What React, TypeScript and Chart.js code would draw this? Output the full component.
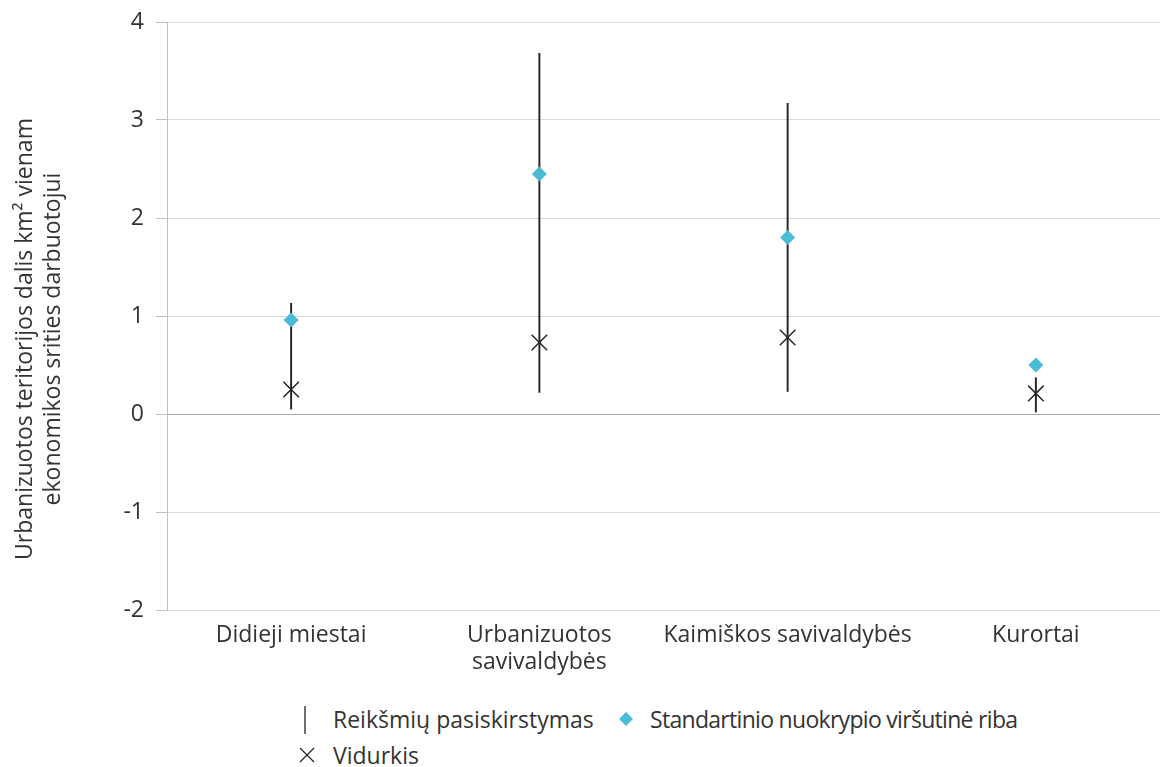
import React, { useEffect, useRef } from 'react';
import { Chart, registerables } from 'chart.js';

Chart.register(...registerables);

const categories: (string | string[])[] = [
  'Didieji miestai',
  ['Urbanizuotos', 'savivaldybės'],
  'Kaimiškos savivaldybės',
  'Kurortai',
];
const rangeLow = [0.05, 0.22, 0.23, 0.02];
const rangeHigh = [1.13, 3.68, 3.17, 0.37];
const stdUpper = [0.96, 2.45, 1.8, 0.5];
const meanValues = [0.25, 0.73, 0.78, 0.21];
const yMin = -2;
const yMax = 4;
const yTitleLines = ['Urbanizuotos teritorijos dalis km² vienam', 'ekonomikos srities darbuotojui'];
const legendLabels = ['Reikšmių pasiskirstymas', 'Standartinio nuokrypio viršutinė riba', 'Vidurkis'];

const FONT = '"Open Sans", Lato, sans-serif';
const FS = 23;
const TEXT = '#333333';
const BLUE = '#4BBCD8';

const yTitlePlugin = {
  id: 'yTitlePlugin',
  afterDraw(chart: any) {
    const ctx = chart.ctx;
    ctx.save();
    ctx.translate(0, 339);
    ctx.rotate(-Math.PI / 2);
    ctx.font = `${FS}px ${FONT}`;
    ctx.fillStyle = TEXT;
    ctx.textAlign = 'center';
    ctx.textBaseline = 'middle';
    ctx.fillText(yTitleLines[0], 0, 25);
    ctx.fillText(yTitleLines[1], 0, 53);
    ctx.restore();
  },
};

export default function App() {
  const ref = useRef<HTMLCanvasElement | null>(null);

  useEffect(() => {
    document.body.style.margin = '0';
    const canvas = ref.current;
    if (!canvas) return;
    const chart = new Chart(canvas, {
      type: 'bar',
      data: {
        labels: categories as any,
        datasets: [
          {
            type: 'line',
            label: legendLabels[2],
            data: meanValues,
            showLine: false,
            pointStyle: 'crossRot',
            pointRadius: 11,
            pointBorderColor: '#262626',
            pointBorderWidth: 1.5,
            borderColor: '#262626',
            order: 1,
          } as any,
          {
            type: 'line',
            label: legendLabels[1],
            data: stdUpper,
            showLine: false,
            pointStyle: 'rectRot',
            pointRadius: 7.5,
            pointBackgroundColor: BLUE,
            pointBorderColor: BLUE,
            pointBorderWidth: 0,
            order: 2,
          } as any,
          {
            type: 'bar',
            label: legendLabels[0],
            data: rangeLow.map((lo, i) => [lo, rangeHigh[i]]),
            backgroundColor: '#262626',
            borderWidth: 0,
            barThickness: 1.3,
            order: 3,
          } as any,
        ],
      },
      options: {
        animation: false,
        responsive: false,
        maintainAspectRatio: false,
        layout: { autoPadding: false, padding: { top: 22, right: 0, left: 0, bottom: 0 } },
        plugins: {
          legend: { display: false },
          tooltip: { enabled: false },
        },
        scales: {
          x: {
            type: 'category',
            offset: true,
            grid: { display: false },
            border: { display: false },
            ticks: {
              color: TEXT,
              font: { family: FONT, size: FS, lineHeight: 1.17 },
              padding: 4,
              maxRotation: 0,
              autoSkip: false,
            },
            afterFit(scale: any) {
              scale.height = 70;
              scale.paddingLeft = 0;
              scale.paddingRight = 0;
            },
          },
          y: {
            min: yMin,
            max: yMax,
            ticks: {
              stepSize: 1,
              color: TEXT,
              font: { family: FONT, size: FS },
              padding: 12,
            },
            grid: {
              color: (c: any) => (c.tick && c.tick.value === 0 ? '#a6a6a6' : '#d9d9d9'),
              tickColor: '#bfbfbf',
              tickLength: 11,
              lineWidth: 1,
            },
            border: { display: true, color: '#bfbfbf' },
            afterFit(scale: any) {
              scale.width = 167;
              scale.paddingTop = 0;
              scale.paddingBottom = 0;
            },
          },
        },
      },
      plugins: [yTitlePlugin],
    });
    return () => chart.destroy();
  }, []);

  const textStyle: React.CSSProperties = {
    position: 'absolute',
    fontFamily: FONT,
    fontSize: FS,
    color: TEXT,
    lineHeight: '30px',
    whiteSpace: 'nowrap',
  };

  return (
    <div style={{ position: 'absolute', left: 0, top: 0, width: 1160, height: 767, background: '#fff' }}>
      <canvas ref={ref} width={1160} height={680} style={{ display: 'block' }} />
      <svg width={20} height={30} style={{ position: 'absolute', left: 295, top: 705 }}>
        <line x1={10} y1={1} x2={10} y2={29} stroke="#1f1f1f" strokeWidth={1.3} />
      </svg>
      <span style={{ ...textStyle, left: 333, top: 704 }}>{legendLabels[0]}</span>
      <svg width={20} height={20} style={{ position: 'absolute', left: 616, top: 709 }}>
        <polygon points="10,3 17,10 10,17 3,10" fill={BLUE} />
      </svg>
      <span style={{ ...textStyle, left: 650, top: 704, letterSpacing: '-0.7px' }}>{legendLabels[1]}</span>
      <svg width={20} height={20} style={{ position: 'absolute', left: 297, top: 745 }}>
        <line x1={3} y1={3} x2={17} y2={17} stroke="#262626" strokeWidth={1.3} />
        <line x1={17} y1={3} x2={3} y2={17} stroke="#262626" strokeWidth={1.3} />
      </svg>
      <span style={{ ...textStyle, left: 333, top: 740 }}>{legendLabels[2]}</span>
    </div>
  );
}
